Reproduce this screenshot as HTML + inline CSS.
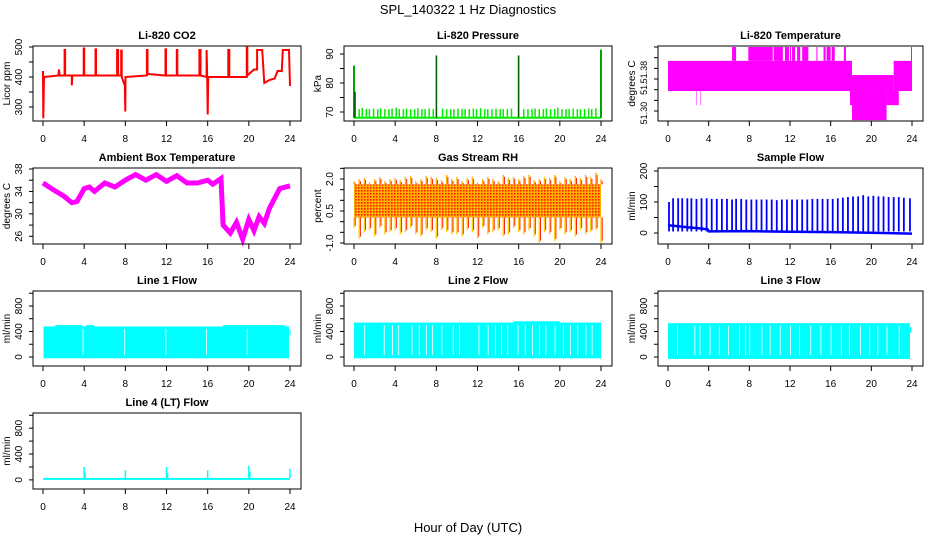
<!DOCTYPE html>
<html><head><meta charset="utf-8"><style>
html,body{margin:0;padding:0;background:#fff;}
svg{display:block;font-family:"Liberation Sans",sans-serif;}
</style></head><body>
<svg id="chart" width="936" height="540" viewBox="0 0 936 540" xmlns="http://www.w3.org/2000/svg">
<defs>
<pattern id="rhdots" width="3" height="3" patternUnits="userSpaceOnUse">
<rect width="3" height="3" fill="#ffb000"/><rect x="1" y="1" width="1.6" height="1.6" fill="#ff2000"/>
</pattern>
</defs>
<text x="468" y="14" text-anchor="middle" font-size="13">SPL_140322  1 Hz Diagnostics</text>
<text x="468" y="532" text-anchor="middle" font-size="13">Hour of Day (UTC)</text>
</svg>
<script>
// ---- data ----
const xTicks = [0,4,8,12,16,20,24];
const co2Hours = [0,0.03,0.06,0.1,1.5,1.55,1.6,2.1,2.1,2.15,2.15,2.8,2.8,2.85,3.95,3.95,4.0,4.0,5.1,5.1,5.15,5.15,7.2,7.2,7.3,7.3,7.6,7.6,7.65,7.65,7.95,8.0,8.02,10.1,10.1,10.15,10.15,11.9,11.9,11.95,11.95,13.0,13.0,13.05,13.05,15.2,15.2,15.3,15.3,15.9,15.9,15.95,16.0,16.05,18.0,18.0,18.1,18.1,19.8,19.8,19.85,19.85,20.5,20.8,20.8,21.3,21.5,22.0,22.5,22.8,23.2,23.3,23.9,24.0];
const co2Vals = [420,262,320,400,405,425,405,405,490,490,405,405,372,405,405,495,495,405,405,492,492,405,405,490,490,405,405,488,488,400,372,285,400,405,490,490,410,405,492,492,405,405,490,490,405,405,490,490,405,400,490,400,275,400,400,490,490,400,400,498,498,405,425,425,490,490,380,390,395,420,420,490,490,370];
const pressSpikeHours = [0,0.1,8,16,24];
const pressSpikeVals = [86,77,89.5,89.5,91.5];
const pressToothHours = [0.5,0.8,1.2,1.5,1.9,2.3,2.6,3.0,3.4,3.7,4.1,4.4,4.8,5.1,5.5,5.9,6.2,6.6,6.9,7.3,7.7,8.6,9.0,9.4,9.7,10.1,10.5,10.8,11.2,11.6,11.9,12.3,12.7,13.0,13.4,13.8,14.2,14.5,14.9,15.3,16.5,16.9,17.3,17.6,18.0,18.4,18.7,19.1,19.5,19.8,20.2,20.6,20.9,21.3,21.7,22.0,22.4,22.8,23.1,23.5];
const pressToothVals = [71,71.5,71,71,71.2,71,71.3,71,71,71.2,71.5,71,71,71.2,71,71,71.3,71,71,71.2,71,71.2,71,71,71,71.2,71,71,71,71.2,71,71.3,71,71,71,71.2,71,71,71,71.2,71,71,71,71.2,71,71,71.3,71,71,71.5,71,71,71,71.2,71,71,71,71.2,71,71.3];
const pressBase = 68;
const tempStart = [0,6.3,7.9,10.4,11.5,12.0,12.2,12.7,13.2,14.6,15.3,15.6,16.1,17.3,23.9,2.8,3.2,17.9,18.0,18.1,21.5,22.2];
const tempEnd   = [18.0,6.7,10.3,11.3,11.9,12.1,12.5,13.0,13.8,14.7,15.5,16.0,16.4,17.5,24.0,2.85,3.25,18.1,22.2,21.5,22.7,24.0];
const tempLow   = [51.3375,51.394,51.394,51.394,51.394,51.394,51.394,51.394,51.394,51.394,51.394,51.394,51.394,51.394,51.394,51.311,51.311,51.311,51.3375,51.283,51.311,51.3375];
const tempHigh  = [51.394,51.42,51.42,51.42,51.42,51.42,51.42,51.42,51.42,51.42,51.42,51.42,51.42,51.42,51.42,51.3375,51.3375,51.394,51.3675,51.3375,51.3375,51.394];
const ambHours = [0,1,2,2.8,3.3,4,4.5,5,6,7,8,9,10,11,12,13,14,15,16,16.5,17.3,17.5,18.2,18.8,19.4,20,20.5,21,21.5,22,23,24];
const ambVals = [35.5,34.3,33.2,32,32.2,34.5,34.8,34.0,35.5,34.8,36,37,36,37,35.8,36.8,35.5,35.5,36,35.3,36.3,28,26.6,28.5,25.5,29,27,29.5,28.3,31,34.5,35];
const rhHours = [0,0.5,1,1.5,2,2.5,3,3.5,4,4.5,5,5.5,6,6.5,7,7.5,8,8.5,9,9.5,10,10.5,11,11.5,12,12.5,13,13.5,14,14.5,15,15.5,16,16.5,17,17.5,18,18.5,19,19.5,20,20.5,21,21.5,22,22.5,23,23.5,24];
const rhHigh = [1.9,2.0,2.05,1.85,2.0,2.1,1.9,2.0,2.05,1.95,2.1,2.15,1.9,2.0,2.15,2.1,2.05,1.95,2.2,2.0,2.1,1.9,2.05,2.1,1.85,2.0,2.1,2.0,1.9,2.2,2.05,2.1,2.0,2.15,2.2,1.95,2.0,2.1,2.05,2.2,1.9,2.1,2.0,2.15,2.05,2.2,2.1,2.3,2.0];
const rhLow = [-0.3,-0.8,-0.5,-0.4,-0.7,-0.3,-0.6,-0.5,-0.4,-0.6,-0.5,-0.3,-0.6,-0.7,-0.4,-0.5,-0.8,-0.4,-0.5,-0.6,-0.6,-0.7,-0.4,-0.5,-0.8,-0.3,-0.6,-0.5,-0.4,-0.7,-0.6,-0.3,-0.5,-0.6,-0.4,-0.7,-1.0,-0.5,-0.6,-0.9,-0.4,-0.6,-0.5,-0.7,-0.4,-0.6,-0.5,-0.4,-1.0];
const rhBand = [0.2,1.75];
const sfBaseHours = [0,1,2,3,3.9,4.0,8,12,16,20,24];
const sfBaseVals = [25,22,18,15,12,5,6,4,3,1,-2];
const sfSpikeHours = [0.1,0.5,1.0,1.4,1.9,2.3,2.8,3.3,3.8,4.3,4.8,5.3,5.8,6.3,6.7,7.2,7.7,8.2,8.7,9.2,9.7,10.2,10.7,11.2,11.7,12.2,12.7,13.2,13.7,14.2,14.7,15.2,15.7,16.2,16.7,17.2,17.7,18.2,18.7,19.2,19.7,20.2,20.7,21.2,21.7,22.2,22.7,23.2,23.8];
const sfSpikeVals = [100,112,112,112,112,112,110,112,112,110,110,110,110,108,110,110,108,108,108,108,108,108,106,108,108,108,108,108,108,110,110,110,110,110,112,114,116,118,118,122,118,120,118,118,116,116,116,114,112];
const l1Range = [0.05,23.9], l1Low = -20, l1High = 480;
const l1ExtraStart = [1.2,4.2,17.5], l1ExtraEnd = [3.8,5.0,23.5], l1ExtraHigh = 500;
const l1Gaps = [3.85,7.9,11.9,15.85,19.8];
const l2Range = [0,24], l2Low = -20, l2High = 540;
const l2ExtraStart = [15.5], l2ExtraEnd = [20], l2ExtraHigh = 560;
const l2Gaps = [1.0,2.9,3.7,4.3,5.6,6.3,7.0,7.6,8.5,9.6,10.2,12.1,13.0,13.7,14.3,14.9,15.9,16.6,17.3,18.0,18.6,19.5,20.3,21.0,21.7,22.5,23.1];
const l3Range = [0,23.8], l3Low = -30, l3High = 530;
const l3ExtraStart = [], l3ExtraEnd = [], l3ExtraHigh = 530;
const l3Gaps = [0.9,2.6,3.1,4.1,5.0,5.9,7.0,7.6,8.0,9.2,10.0,11.0,12.0,12.9,14.0,15.0,16.0,17.0,17.8,18.9,19.8,20.6,21.5,22.7];
const l4BaseRange = [0,24], l4BaseLow = 0, l4BaseHigh = 30;
const l4SpikeHours = [4,4.1,8,12,12.1,16,20,20.1,24];
const l4SpikeVals = [200,110,150,200,110,150,220,130,170];

// ---- drawing ----
const NS = "http://www.w3.org/2000/svg";
const svg = document.getElementById('chart');
function mk(tag, attrs, parent){
  const e = document.createElementNS(NS, tag);
  for (const k in attrs) e.setAttribute(k, attrs[k]);
  (parent||svg).appendChild(e);
  return e;
}
function panel(name, L, T, R, B, title, ylab, ymin, ymax, ticks, labelVals, labelText, lblSize){
  const g = mk('g', {});
  
  
  const xs = h => (L + 10) + h * ((R - 11) - (L + 10)) / 24;
  const ys = v => B - (v - ymin) / (ymax - ymin) * (B - T);
  const plot = mk('g', {}, g);
  
  
  const box = mk('rect', {x:L, y:T, width:R-L, height:B-T, fill:'none', stroke:'#000', 'stroke-width':1}, g);
  
  
  const t = mk('text', {x:(L+R)/2, y:T-7, 'text-anchor':'middle', 'font-size':11, 'font-weight':'bold'}, g);
  t.textContent = title;
  
  
  const yl = mk('text', {x:L-23, y:(T+B)/2, 'text-anchor':'middle', 'font-size':10, transform:`rotate(-90 ${L-23} ${(T+B)/2})`}, g);
  yl.textContent = ylab;
  
  
  mk('line', {x1:xs(0), x2:xs(24), y1:B, y2:B, stroke:'#000'}, g);
  xTicks.forEach(h => {
    mk('line', {x1:xs(h), x2:xs(h), y1:B, y2:B+5, stroke:'#000'}, g);
    const tl = mk('text', {x:xs(h), y:B+21, 'text-anchor':'middle', 'font-size':10}, g);
    tl.textContent = h;
    
    
  });
  ticks.forEach(v => { mk('line', {x1:L-4, x2:L, y1:ys(v), y2:ys(v), stroke:'#000'}, g); });
  labelVals.forEach((v, i) => {
    const x = L - 11, y = ys(v);
    const tl = mk('text', {x:x, y:y, 'text-anchor':'middle', 'font-size':lblSize||10, transform:`rotate(-90 ${x} ${y})`}, g);
    tl.textContent = labelText[i];
    
    
  });
  return {g: plot, xs, ys};
}
function poly(p, hours, vals, color, w){
  const pts = hours.map((h,i) => p.xs(h).toFixed(1) + ',' + p.ys(vals[i]).toFixed(1)).join(' ');
  return mk('polyline', {points:pts, fill:'none', stroke:color, 'stroke-width':w, 'stroke-linejoin':'miter'}, p.g);
}
function vlines(p, hours, from, vals, color, w){
  hours.forEach((h,i) => {
    const base = Array.isArray(from) ? from[i] : from;
    mk('line', {x1:p.xs(h), x2:p.xs(h), y1:p.ys(base), y2:p.ys(vals[i]), stroke:color, 'stroke-width':w}, p.g);
  });
}
function rect(p, h0, h1, lo, hi, fill){
  return mk('rect', {x:p.xs(h0), y:p.ys(hi), width:Math.max(0.5, p.xs(h1)-p.xs(h0)), height:p.ys(lo)-p.ys(hi), fill:fill}, p.g);
}

const C1=[33,301], C2=[344,612], C3=[658,923];
const R1=[46,121], R2=[168,244], R3=[291,366], R4=[413,489];

let p = panel('co2', C1[0], R1[0], C1[1], R1[1], 'Li-820 CO2', 'Licor ppm', 253.3, 503.3,
  [300,350,400,450,500], [300,400,500], ['300','400','500']);
poly(p, co2Hours, co2Vals, '#ff0000', 2);

p = panel('pressure', C2[0], R1[0], C2[1], R1[1], 'Li-820 Pressure', 'kPa', 66.9, 92.76,
  [70,75,80,85,90], [70,80,90], ['70','80','90']);
mk('line', {x1:p.xs(0), x2:p.xs(24), y1:p.ys(pressBase), y2:p.ys(pressBase), stroke:'#00ee00', 'stroke-width':2}, p.g);
vlines(p, pressToothHours, pressBase, pressToothVals, '#00ee00', 1.5);
vlines(p, pressSpikeHours, pressBase, pressSpikeVals, '#00ee00', 2);
vlines(p, pressSpikeHours, pressBase, pressSpikeVals, '#000', 0.6);

p = panel('li820-temp', C3[0], R1[0], C3[1], R1[1], 'Li-820 Temperature', 'degrees C', 51.2813, 51.4219,
  [51.30,51.32,51.34,51.36,51.38,51.40,51.42], [51.296,51.342,51.373], ['51.30','51.','51.38'], 9);
tempStart.forEach((s,i) => rect(p, s, tempEnd[i], tempLow[i], tempHigh[i], '#ff00ff'));

p = panel('ambient-temp', C1[0], R2[0], C1[1], R2[1], 'Ambient Box Temperature', 'degrees C', 24.63, 38.18,
  [26,28,30,32,34,36,38], [26,30,34,38], ['26','30','34','38']);
poly(p, ambHours, ambVals, '#ff00ff', 5);

p = panel('gas-rh', C2[0], R2[0], C2[1], R2[1], 'Gas Stream RH', 'percent', -1.047, 2.516,
  [-1,-0.5,0,0.5,1,1.5,2,2.5], [-1,0.5,2], ['-1.0','0.5','2.0']);
rect(p, 0, 24, rhBand[0], rhBand[1], 'url(#rhdots)');
vlines(p, rhHours, rhBand[1], rhHigh, '#ffb000', 1.3);
vlines(p, rhHours, rhBand[0], rhLow, '#ffd000', 1.3);
vlines(p, rhHours.map(h=>h+0.12), rhBand[1], rhHigh.map(v=>v-0.1), '#ff2000', 1);
vlines(p, rhHours.map(h=>h+0.12), rhBand[0], rhLow.map(v=>v+0.1), '#ff2000', 1);

p = panel('sample-flow', C3[0], R2[0], C3[1], R2[1], 'Sample Flow', 'ml/min', -35.5, 209.7,
  [0,50,100,150,200], [0,100,200], ['0','100','200']);
poly(p, sfBaseHours, sfBaseVals, '#0000ff', 2.5);
vlines(p, sfSpikeHours, sfBaseVals[5], sfSpikeVals, '#0000ff', 1.8);

function flowPanel(name, C, R, title, rng, lo, hi, exS, exE, exH, gaps){
  const q = panel(name, C[0], R[0], C[1], R[1], title, 'ml/min', -141, 1035,
    [0,200,400,600,800,1000], [0,400,800], ['0','400','800']);
  rect(q, rng[0], rng[1], lo, hi, '#00ffff');
  exS.forEach((s,i) => rect(q, s, exE[i], hi-20, exH, '#00ffff'));
  gaps.forEach(h => rect(q, h, h+0.08, 30, hi-40, '#ffffff'));
  return q;
}
p = flowPanel('line1-flow', C1, R3, 'Line 1 Flow', l1Range, l1Low, l1High, l1ExtraStart, l1ExtraEnd, l1ExtraHigh, l1Gaps);
rect(p, 23.95, 24.05, 340, 430, '#00ffff');
p = flowPanel('line2-flow', C2, R3, 'Line 2 Flow', l2Range, l2Low, l2High, l2ExtraStart, l2ExtraEnd, l2ExtraHigh, l2Gaps);
p = flowPanel('line3-flow', C3, R3, 'Line 3 Flow', l3Range, l3Low, l3High, l3ExtraStart, l3ExtraEnd, l3ExtraHigh, l3Gaps);
rect(p, 23.8, 23.95, 380, 470, '#00ffff');

p = panel('line4-flow', C1[0], R4[0], C1[1], R4[1], 'Line 4 (LT) Flow', 'ml/min', -141, 1035,
  [0,200,400,600,800,1000], [0,400,800], ['0','400','800']);
rect(p, l4BaseRange[0], l4BaseRange[1], l4BaseLow, l4BaseHigh, '#00ffff');
vlines(p, l4SpikeHours, l4BaseHigh, l4SpikeVals, '#00ffff', 1.5);
</script>
</body></html>
